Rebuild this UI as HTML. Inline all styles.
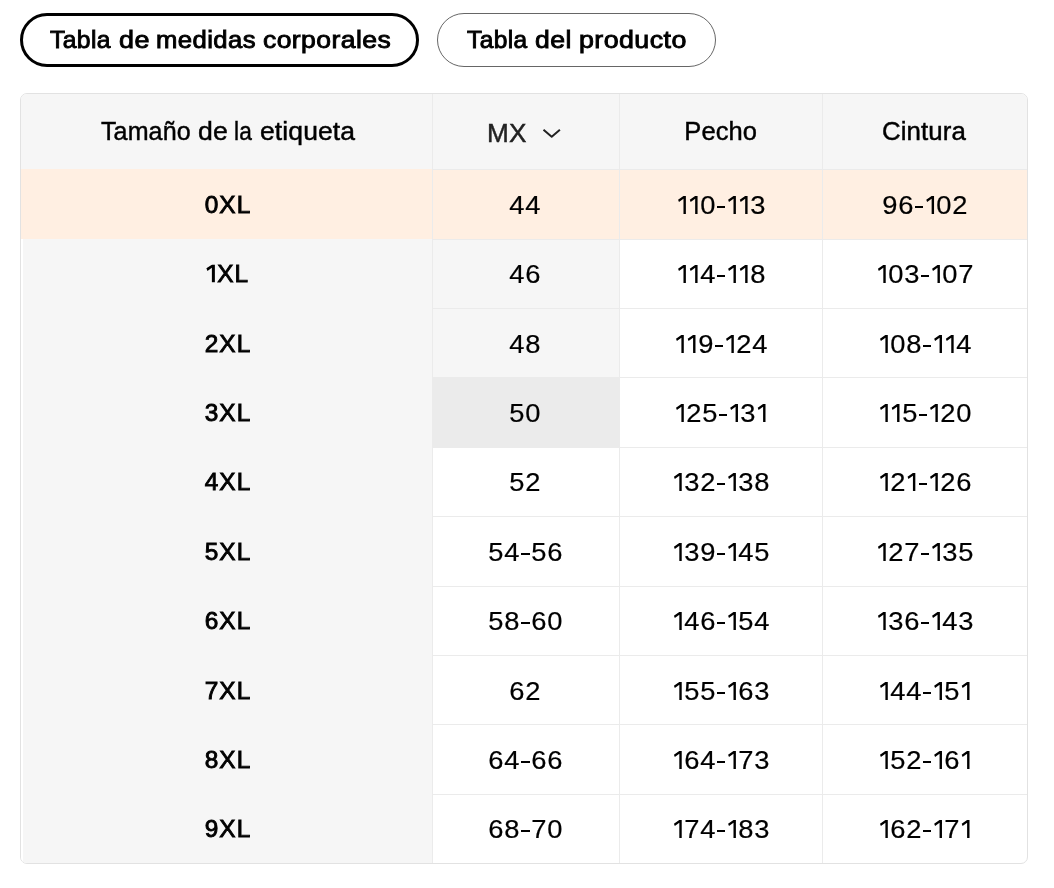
<!DOCTYPE html>
<html lang="es"><head><meta charset="utf-8"><title>Tabla de medidas</title>
<style>
html,body{margin:0;padding:0;background:#fff;}
body{width:1054px;height:888px;position:relative;overflow:hidden;will-change:transform;
 font-family:"Liberation Sans",sans-serif;font-size:25.5px;color:#000;}
.btn{position:absolute;top:13px;height:54px;box-sizing:border-box;border-radius:27px;
 display:flex;align-items:center;justify-content:center;white-space:nowrap;
 -webkit-text-stroke:0.9px #000;font-size:24.4px;}
#b1{left:20px;width:399px;border:3px solid #000;}
#b2{left:437px;width:279px;border:1px solid #666;}
#tbl{position:absolute;left:20px;top:93px;width:1008px;height:771px;box-sizing:border-box;
 border:1px solid #e2e2e2;border-radius:7px;overflow:hidden;background:#fff;}
.c{position:absolute;display:flex;align-items:center;justify-content:center;white-space:nowrap;box-sizing:border-box;}
.h{background:#f6f6f6;color:#000;-webkit-text-stroke:0.45px currentColor;}
.h1{color:#222;}
.f{background:#f6f6f6;-webkit-text-stroke:0.9px #000;letter-spacing:1.1px;font-size:24.4px;}
.b{border-top:1px solid #ebebeb;}
.k0,.k1,.k2,.k3{display:block;text-align:center;line-height:30px;}
.f{padding-left:3px;}
.f span{display:inline-block;transform:translateY(0.3px);}
.k1{padding-right:1.4px;}
.h1{padding-top:4px;}
.hl{background:#ffefe2;}
.g{background:#f6f6f6;}
.hv{background:#ebebeb;}
.vd{position:absolute;top:0;width:1px;height:769px;background:#ebebeb;}
i{font-style:normal;display:inline-block;text-align:center;}
b{font-weight:normal;display:inline-block;transform-origin:0 50%;}
.w{display:block;position:absolute;left:0;white-space:nowrap;}
i.d{width:15.85px;transform:scaleX(1.07);-webkit-text-stroke:0.2px currentColor;}
i.o{width:11.7px;height:18.2px;background:currentColor;
 clip-path:polygon(9.5px 0,9.5px 18.2px,7.1px 18.2px,7.1px 2.9px,2.6px 6.2px,1.7px 4px,7.4px 0);}
i.ob{width:11.2px;height:18.3px;background:currentColor;margin-right:1.2px;vertical-align:-0.4px;
 clip-path:polygon(10.1px 0,10.1px 18.3px,7.1px 18.3px,7.1px 3.3px,2.7px 6.5px,1.6px 3.9px,7.5px 0);}
i.y{width:10.8px;height:2px;vertical-align:6px;}
i.y:before{content:"";display:block;margin:0 auto;width:8.6px;height:2px;background:currentColor;}
</style></head>
<body>
<div class="btn" id="b1"><span class="w" id="w_b1"><b style="letter-spacing:0.40px;margin-left:27.00px;transform:scaleX(1.0109)">Tabla</b><b style="letter-spacing:0.40px;margin-left:8.40px;transform:scaleX(1.1017)">de</b><b style="letter-spacing:0.40px;margin-left:9.50px;transform:scaleX(1.0523)">medidas</b><b style="letter-spacing:0.40px;margin-left:12.00px;transform:scaleX(1.0865)">corporales</b></span></div>
<div class="btn" id="b2"><span class="w" id="w_b2"><b style="letter-spacing:0.40px;margin-left:29.00px;transform:scaleX(1.0044)">Tabla</b><b style="letter-spacing:0.40px;margin-left:7.50px;transform:scaleX(1.0877)">del</b><b style="letter-spacing:0.40px;margin-left:10.50px;transform:scaleX(1.0979)">producto</b></span></div>
<div id="tbl">
<div class="c h h0" style="left:0px;top:0px;width:411px;height:75px;"><span class="w" id="w_h0"><b style="letter-spacing:0.10px;margin-left:80.20px;transform:scaleX(0.9822)">Tamaño</b><b style="letter-spacing:0.10px;margin-left:5.30px;transform:scaleX(1.0444)">de</b><b style="letter-spacing:0.10px;margin-left:7.80px;transform:scaleX(0.8900)">la</b><b style="letter-spacing:0.10px;margin-left:5.70px;transform:scaleX(1.0389)">etiqueta</b></span></div>
<div class="c h h1" style="left:412px;top:0px;width:186px;height:75px;"><span class="w" id="w_h1"><b style="letter-spacing:0.30px;margin-left:54.10px;transform:scaleX(1.0250)">MX</b></span><svg class="chev" style="position:absolute;left:109px;top:34px" width="20" height="12" viewBox="0 0 20 12"><path d="M1.5 1.8 L9.7 8.8 L17.9 1.8" fill="none" stroke="#222" stroke-width="2" stroke-linejoin="round"/></svg></div>
<div class="c h h2" style="left:599px;top:0px;width:202px;height:75px;"><span class="w"><b style="letter-spacing:0.10px;margin-left:64.30px;transform:scaleX(1.0000)">Pecho</b></span></div>
<div class="c h h3" style="left:802px;top:0px;width:204px;height:75px;"><span class="w"><b style="letter-spacing:0.10px;margin-left:59.30px;transform:scaleX(1.0134)">Cintura</b></span></div>
<div class="c f hl k0 r0" style="left:0px;top:75px;width:411px;height:70px;padding-top:21px"><span>0XL</span></div>
<div class="c b hl k1 r0" style="left:412px;top:75px;width:186px;height:70px;padding-top:20px"><span><i class="d">4</i><i class="d">4</i></span></div>
<div class="c b hl k2 r0" style="left:599px;top:75px;width:202px;height:70px;padding-top:20px"><span><i class="o"></i><i class="o"></i><i class="d">0</i><i class="y"></i><i class="o"></i><i class="o"></i><i class="d">3</i></span></div>
<div class="c b hl k3 r0" style="left:802px;top:75px;width:204px;height:70px;padding-top:20px"><span><i class="d">9</i><i class="d">6</i><i class="y"></i><i class="o"></i><i class="d">0</i><i class="d">2</i></span></div>
<div class="c f k0 r1" style="left:0px;top:145px;width:411px;height:69px;padding-top:20px;padding-left:1px"><span><i class="ob"></i>XL</span></div>
<div class="c b g k1 r1" style="left:412px;top:145px;width:186px;height:69px;padding-top:19px"><span><i class="d">4</i><i class="d">6</i></span></div>
<div class="c b k2 r1" style="left:599px;top:145px;width:202px;height:69px;padding-top:19px"><span><i class="o"></i><i class="o"></i><i class="d">4</i><i class="y"></i><i class="o"></i><i class="o"></i><i class="d">8</i></span></div>
<div class="c b k3 r1" style="left:802px;top:145px;width:204px;height:69px;padding-top:19px"><span><i class="o"></i><i class="d">0</i><i class="d">3</i><i class="y"></i><i class="o"></i><i class="d">0</i><i class="d">7</i></span></div>
<div class="c f k0 r2" style="left:0px;top:214px;width:411px;height:69px;padding-top:21px"><span>2XL</span></div>
<div class="c b g k1 r2" style="left:412px;top:214px;width:186px;height:69px;padding-top:20px"><span><i class="d">4</i><i class="d">8</i></span></div>
<div class="c b k2 r2" style="left:599px;top:214px;width:202px;height:69px;padding-top:20px"><span><i class="o"></i><i class="o"></i><i class="d">9</i><i class="y"></i><i class="o"></i><i class="d">2</i><i class="d">4</i></span></div>
<div class="c b k3 r2" style="left:802px;top:214px;width:204px;height:69px;padding-top:20px"><span><i class="o"></i><i class="d">0</i><i class="d">8</i><i class="y"></i><i class="o"></i><i class="o"></i><i class="d">4</i></span></div>
<div class="c f k0 r3" style="left:0px;top:283px;width:411px;height:70px;padding-top:21px"><span>3XL</span></div>
<div class="c b hv k1 r3" style="left:412px;top:283px;width:186px;height:70px;padding-top:20px"><span><i class="d">5</i><i class="d">0</i></span></div>
<div class="c b k2 r3" style="left:599px;top:283px;width:202px;height:70px;padding-top:20px"><span><i class="o"></i><i class="d">2</i><i class="d">5</i><i class="y"></i><i class="o"></i><i class="d">3</i><i class="o"></i></span></div>
<div class="c b k3 r3" style="left:802px;top:283px;width:204px;height:70px;padding-top:20px"><span><i class="o"></i><i class="o"></i><i class="d">5</i><i class="y"></i><i class="o"></i><i class="d">2</i><i class="d">0</i></span></div>
<div class="c f k0 r4" style="left:0px;top:353px;width:411px;height:69px;padding-top:20px"><span>4XL</span></div>
<div class="c b k1 r4" style="left:412px;top:353px;width:186px;height:69px;padding-top:19px"><span><i class="d">5</i><i class="d">2</i></span></div>
<div class="c b k2 r4" style="left:599px;top:353px;width:202px;height:69px;padding-top:19px"><span><i class="o"></i><i class="d">3</i><i class="d">2</i><i class="y"></i><i class="o"></i><i class="d">3</i><i class="d">8</i></span></div>
<div class="c b k3 r4" style="left:802px;top:353px;width:204px;height:69px;padding-top:19px"><span><i class="o"></i><i class="d">2</i><i class="o"></i><i class="y"></i><i class="o"></i><i class="d">2</i><i class="d">6</i></span></div>
<div class="c f k0 r5" style="left:0px;top:422px;width:411px;height:70px;padding-top:21px"><span>5XL</span></div>
<div class="c b k1 r5" style="left:412px;top:422px;width:186px;height:70px;padding-top:20px"><span><i class="d">5</i><i class="d">4</i><i class="y"></i><i class="d">5</i><i class="d">6</i></span></div>
<div class="c b k2 r5" style="left:599px;top:422px;width:202px;height:70px;padding-top:20px"><span><i class="o"></i><i class="d">3</i><i class="d">9</i><i class="y"></i><i class="o"></i><i class="d">4</i><i class="d">5</i></span></div>
<div class="c b k3 r5" style="left:802px;top:422px;width:204px;height:70px;padding-top:20px"><span><i class="o"></i><i class="d">2</i><i class="d">7</i><i class="y"></i><i class="o"></i><i class="d">3</i><i class="d">5</i></span></div>
<div class="c f k0 r6" style="left:0px;top:492px;width:411px;height:69px;padding-top:20px"><span>6XL</span></div>
<div class="c b k1 r6" style="left:412px;top:492px;width:186px;height:69px;padding-top:19px"><span><i class="d">5</i><i class="d">8</i><i class="y"></i><i class="d">6</i><i class="d">0</i></span></div>
<div class="c b k2 r6" style="left:599px;top:492px;width:202px;height:69px;padding-top:19px"><span><i class="o"></i><i class="d">4</i><i class="d">6</i><i class="y"></i><i class="o"></i><i class="d">5</i><i class="d">4</i></span></div>
<div class="c b k3 r6" style="left:802px;top:492px;width:204px;height:69px;padding-top:19px"><span><i class="o"></i><i class="d">3</i><i class="d">6</i><i class="y"></i><i class="o"></i><i class="d">4</i><i class="d">3</i></span></div>
<div class="c f k0 r7" style="left:0px;top:561px;width:411px;height:69px;padding-top:21px"><span>7XL</span></div>
<div class="c b k1 r7" style="left:412px;top:561px;width:186px;height:69px;padding-top:20px"><span><i class="d">6</i><i class="d">2</i></span></div>
<div class="c b k2 r7" style="left:599px;top:561px;width:202px;height:69px;padding-top:20px"><span><i class="o"></i><i class="d">5</i><i class="d">5</i><i class="y"></i><i class="o"></i><i class="d">6</i><i class="d">3</i></span></div>
<div class="c b k3 r7" style="left:802px;top:561px;width:204px;height:69px;padding-top:20px"><span><i class="o"></i><i class="d">4</i><i class="d">4</i><i class="y"></i><i class="o"></i><i class="d">5</i><i class="o"></i></span></div>
<div class="c f k0 r8" style="left:0px;top:630px;width:411px;height:70px;padding-top:21px"><span>8XL</span></div>
<div class="c b k1 r8" style="left:412px;top:630px;width:186px;height:70px;padding-top:20px"><span><i class="d">6</i><i class="d">4</i><i class="y"></i><i class="d">6</i><i class="d">6</i></span></div>
<div class="c b k2 r8" style="left:599px;top:630px;width:202px;height:70px;padding-top:20px"><span><i class="o"></i><i class="d">6</i><i class="d">4</i><i class="y"></i><i class="o"></i><i class="d">7</i><i class="d">3</i></span></div>
<div class="c b k3 r8" style="left:802px;top:630px;width:204px;height:70px;padding-top:20px"><span><i class="o"></i><i class="d">5</i><i class="d">2</i><i class="y"></i><i class="o"></i><i class="d">6</i><i class="o"></i></span></div>
<div class="c f k0 r9" style="left:0px;top:700px;width:411px;height:69px;padding-top:20px"><span>9XL</span></div>
<div class="c b k1 r9" style="left:412px;top:700px;width:186px;height:69px;padding-top:19px"><span><i class="d">6</i><i class="d">8</i><i class="y"></i><i class="d">7</i><i class="d">0</i></span></div>
<div class="c b k2 r9" style="left:599px;top:700px;width:202px;height:69px;padding-top:19px"><span><i class="o"></i><i class="d">7</i><i class="d">4</i><i class="y"></i><i class="o"></i><i class="d">8</i><i class="d">3</i></span></div>
<div class="c b k3 r9" style="left:802px;top:700px;width:204px;height:69px;padding-top:19px"><span><i class="o"></i><i class="d">6</i><i class="d">2</i><i class="y"></i><i class="o"></i><i class="d">7</i><i class="o"></i></span></div>
<div class="vd" style="left:411px"></div>
<div class="vd" style="left:598px"></div>
<div class="vd" style="left:801px"></div>
<div style="position:absolute;left:0;top:145px;width:2px;height:624px;background:#fff"></div>
</div>
</body></html>
